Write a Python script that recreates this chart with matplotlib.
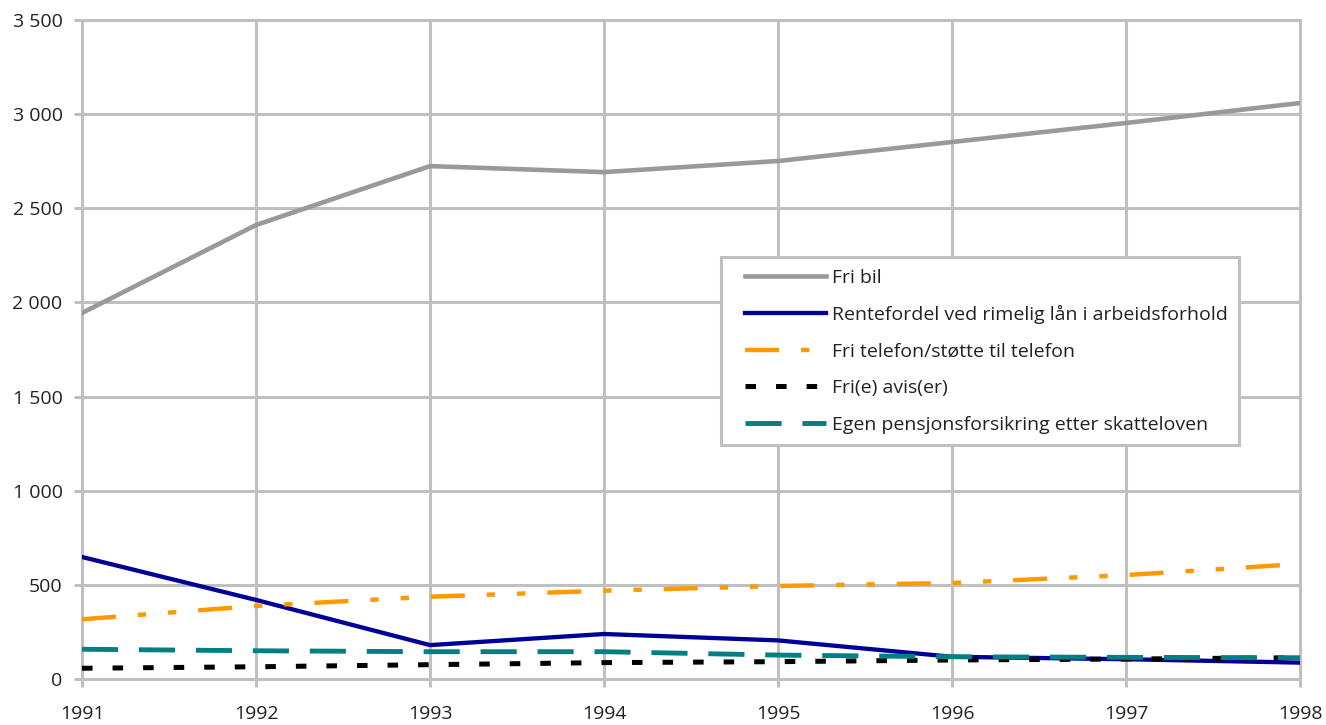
import matplotlib
matplotlib.use("Agg")
import matplotlib.pyplot as plt
from matplotlib.ticker import FuncFormatter
from matplotlib.lines import Line2D
from matplotlib.legend_handler import HandlerLine2D

# values
years = [1991, 1992, 1993, 1994, 1995, 1996, 1997, 1998]
fri_bil = [1944, 2411, 2724, 2692, 2751, 2852, 2953, 3059]
rentefordel = [648, 420, 180, 239, 205, 118, 105, 87]
telefon = [317, 388, 437, 469, 494, 510, 552, 611]
avis = [57, 65, 76, 87, 92, 101, 106, 113]
pensjon = [158, 150, 145, 145, 127, 118, 115, 113]

labels = ["Fri bil",
          "Rentefordel ved rimelig lån i arbeidsforhold",
          "Fri telefon/støtte til telefon",
          "Fri(e) avis(er)",
          "Egen pensjonsforsikring etter skatteloven"]

plt.rcParams['font.family'] = ['Open Sans', 'DejaVu Sans']
plt.rcParams['lines.scale_dashes'] = False

grid_col = '#c0c0c0'
text_col = '#222222'

fig = plt.figure(figsize=(13.26, 7.25), dpi=100)
ax = fig.add_axes([82/1326, 1 - 679/725, (1300-82)/1326, (679-20)/725])

ax.plot(years, fri_bil, color='#999999', lw=3.3, label=labels[0], zorder=5)
ax.plot(years, rentefordel, color='#000099', lw=3.1, label=labels[1], zorder=5)
ax.plot(years, telefon, color='#ff9900', lw=3.2, label=labels[2], zorder=5,
        dashes=(24.5, 15.8, 6, 15.8, 6, 15.8))
ax.plot(years, avis, color='black', lw=3.6, label=labels[3], zorder=5,
        dashes=(7.6, 14.4))
ax.plot(years, pensjon, color='#008080', lw=3.5, label=labels[4], zorder=5,
        dashes=(26, 15))

ax.set_xlim(1991, 1998)
ax.set_ylim(0, 3500)
ax.set_xticks(years)
ax.set_yticks(range(0, 3501, 500))
ax.yaxis.set_major_formatter(FuncFormatter(lambda v, p: f"{int(v):,}".replace(",", " ")))

ax.grid(True, color=grid_col, lw=2.2)
ax.set_axisbelow(True)
for s in ax.spines.values():
    s.set_color(grid_col)
    s.set_linewidth(2.2)
ax.tick_params(axis='x', length=6, width=2.2, color=grid_col, labelsize=14, pad=13,
               labelcolor=text_col)
ax.tick_params(axis='y', length=6, width=2.2, color=grid_col, labelsize=14, pad=8,
               labelcolor=text_col)

# handles start a bit inside the frame, as in the original
leg = ax.legend(loc='upper left', bbox_to_anchor=(0.5246, 0.6404), borderaxespad=0,
                fontsize=14, handlelength=4.8, handletextpad=0.3, labelspacing=0.95,
                borderpad=0.6, fancybox=False, framealpha=1, edgecolor=grid_col,
                handler_map={Line2D: HandlerLine2D(xpad=0.63)})
leg.get_frame().set_linewidth(2.2)
for t in leg.get_texts():
    t.set_color(text_col)

fig.savefig("out.png", dpi=100)
